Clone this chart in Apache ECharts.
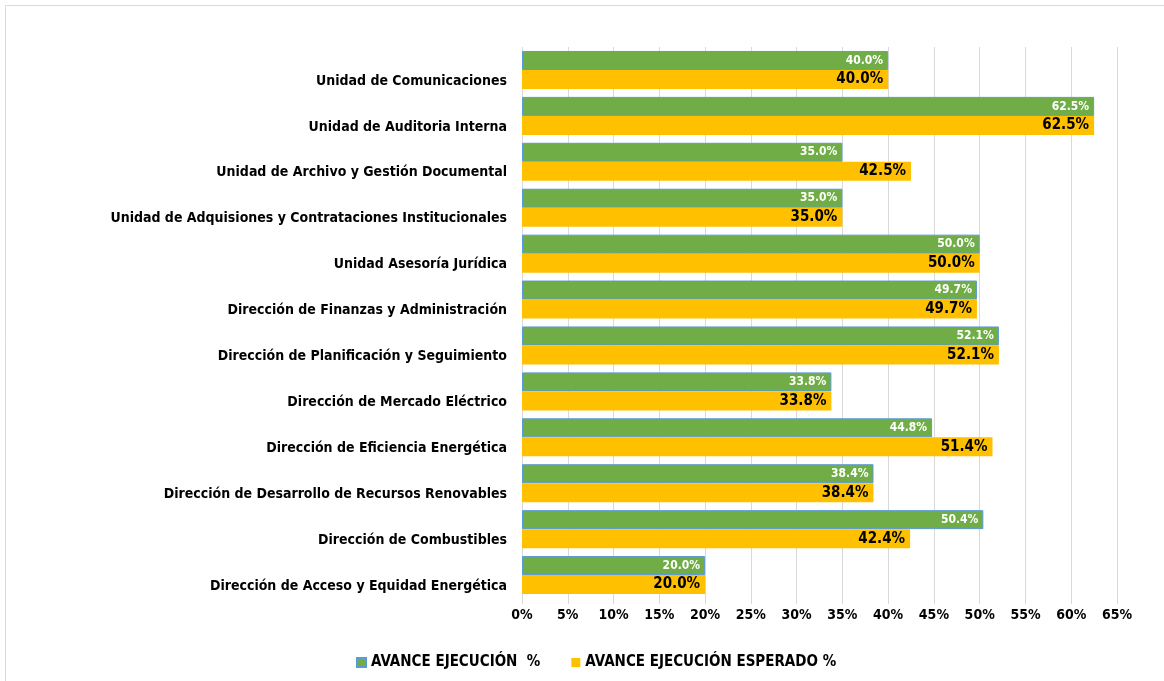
<!DOCTYPE html>
<html>
<head>
<meta charset="utf-8">
<script src="https://cdn.jsdelivr.net/npm/echarts@6/dist/echarts.min.js"></script>
<style>
  html, body { margin: 0; padding: 0; background: #fff; }
  #chart { width: 1164px; height: 681px; }
</style>
</head>
<body>
<div id="chart"></div>
<script>
const categories = [
  'Unidad de Comunicaciones',
  'Unidad de Auditoria Interna',
  'Unidad de Archivo y Gestión Documental',
  'Unidad de Adquisiones y Contrataciones Institucionales',
  'Unidad Asesoría Jurídica',
  'Dirección de Finanzas y Administración',
  'Dirección de Planificación y Seguimiento',
  'Dirección de Mercado Eléctrico',
  'Dirección de Eficiencia Energética',
  'Dirección de Desarrollo de Recursos Renovables',
  'Dirección de Combustibles',
  'Dirección de Acceso y Equidad Energética',
];
const avance = [40.0, 62.5, 35.0, 35.0, 50.0, 49.7, 52.1, 33.8, 44.8, 38.4, 50.4, 20.0];
const esperado = [40.0, 62.5, 42.5, 35.0, 50.0, 49.7, 52.1, 33.8, 51.4, 38.4, 42.4, 20.0];
const seriesNames = ['AVANCE EJECUCIÓN  %', 'AVANCE EJECUCIÓN ESPERADO %'];

const font = '"Liberation Sans Narrow", "DejaVu Sans Condensed", "Liberation Sans", sans-serif';
const chart = echarts.init(document.getElementById('chart'));

const option = {
  animation: false,
  textStyle: { fontFamily: font },
  graphic: [{
    type: 'rect',
    shape: { x: 5.5, y: 5.5, width: 1170, height: 690 },
    style: { fill: 'none', stroke: '#d9d9d9', lineWidth: 1 },
  }],
  grid: { left: 522, right: 47, top: 47, bottom: 83 },
  legend: {
    bottom: 6,
    left: 351,
    itemWidth: 9,
    itemHeight: 9,
    itemGap: 31,
    icon: 'rect',
    textStyle: { fontFamily: font, fontSize: 15, fontWeight: 'bold', color: '#000' },
    data: seriesNames,
  },
  xAxis: {
    type: 'value',
    min: 0,
    max: 65,
    interval: 5,
    axisLine: { show: false },
    axisTick: { show: true, length: 6, lineStyle: { color: '#d9d9d9' } },
    splitLine: { lineStyle: { color: '#d9d9d9' } },
    axisLabel: {
      formatter: '{value}%',
      margin: 10,
      fontFamily: font,
      fontSize: 14,
      fontWeight: 'bold',
      color: '#000',
    },
  },
  yAxis: {
    type: 'category',
    inverse: true,
    data: categories,
    axisLine: { show: false },
    axisTick: { show: false },
    axisLabel: {
      margin: 15,
      formatter: (v) => '{c|' + v + '}',
      rich: {
        c: {
          padding: [22, 0, 0, 0],
          fontFamily: font,
          fontSize: 14,
          fontWeight: 'bold',
          color: '#000',
        },
      },
    },
  },
  series: [{
    name: seriesNames[0],
    type: 'bar',
    data: avance,
    barWidth: 19,
    barGap: '0%',
    itemStyle: { color: '#70ad47', borderColor: '#5b9bd5', borderWidth: 1 },
    label: {
      show: true,
      position: 'insideRight',
      formatter: (p) => p.value.toFixed(1) + '%',
      fontFamily: font,
      fontSize: 12,
      fontWeight: 'bold',
      color: '#fff',
    },
  }, {
    name: seriesNames[1],
    type: 'bar',
    data: esperado,
    barWidth: 19,
    itemStyle: { color: '#ffc000' },
    label: {
      show: true,
      position: 'insideRight',
      formatter: (p) => p.value.toFixed(1) + '%',
      fontFamily: font,
      fontSize: 15,
      fontWeight: 'bold',
      color: '#000',
    },
  }],
};
chart.setOption(option);
</script>
</body>
</html>
